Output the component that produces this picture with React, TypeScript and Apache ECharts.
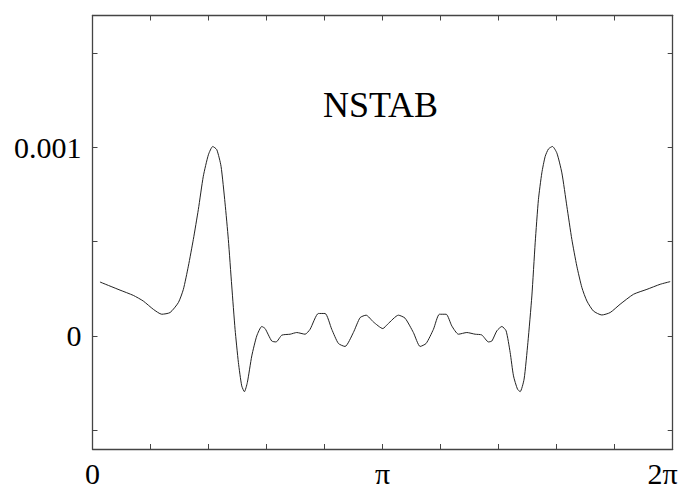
import React, { useEffect, useRef } from "react";
import * as echarts from "echarts";

const PI = Math.PI;

// x positions (radians) along the curve
const xValues: number[] = [
  0.081, 0.298, 0.442, 0.550, 0.659, 0.750, 0.840, 0.930, 0.984, 1.038,
  1.092, 1.146, 1.200, 1.255, 1.302, 1.346, 1.392, 1.435, 1.471, 1.508,
  1.544, 1.580, 1.616, 1.645, 1.677, 1.725, 1.779, 1.833, 1.869, 1.941,
  1.988, 2.050, 2.140, 2.212, 2.302, 2.356, 2.446, 2.519, 2.591, 2.663,
  2.735, 2.825, 2.898, 2.963, 3.042, 3.144, 3.196, 3.313, 3.385, 3.475,
  3.548, 3.613, 3.692, 3.757, 3.830, 3.891, 3.963, 4.054, 4.144, 4.216,
  4.288, 4.325, 4.379, 4.433, 4.479, 4.523, 4.559, 4.602, 4.631, 4.674,
  4.715, 4.758, 4.794, 4.829, 4.866, 4.902, 4.938, 4.981, 5.029, 5.083,
  5.137, 5.191, 5.245, 5.300, 5.354, 5.425, 5.516, 5.606, 5.714, 5.859,
  6.004, 6.148, 6.256,
];

// NSTAB values
const yValues: number[] = [
  0.000286, 0.000243, 0.000215, 0.000185, 0.000141, 0.000115, 0.000124, 0.000177, 0.000247, 0.000370,
  0.000512, 0.000670, 0.000847, 0.000961, 0.001005, 0.000988, 0.000900, 0.000706, 0.000512, 0.000265,
  0.000035, -0.000141, -0.000265, -0.000296, -0.000247, -0.000106, 0.000000, 0.000050, 0.000039, -0.000027,
  -0.000032, 0.000004, 0.000009, 0.000018, 0.000009, 0.000035, 0.000119, 0.000119, 0.000035, -0.000040,
  -0.000056, 0.000018, 0.000097, 0.000110, 0.000074, 0.000039, 0.000062, 0.000110, 0.000094, 0.000018,
  -0.000056, -0.000040, 0.000035, 0.000115, 0.000115, 0.000053, 0.000009, 0.000018, 0.000009, 0.000005,
  -0.000032, -0.000027, 0.000027, 0.000050, 0.000027, -0.000088, -0.000212, -0.000282, -0.000296, -0.000229,
  -0.000035, 0.000212, 0.000494, 0.000723, 0.000865, 0.000952, 0.000992, 0.001005, 0.000970, 0.000865,
  0.000688, 0.000512, 0.000370, 0.000256, 0.000185, 0.000132, 0.000111, 0.000124, 0.000168, 0.000221,
  0.000247, 0.000274, 0.000288,
];

const xTickValues: number[] = [0, 0.2, 0.4, 0.6, 0.8, 1, 1.2, 1.4, 1.6, 1.8, 2].map((k) => k * PI);
const xLabelValues: number[] = [0, PI, 2 * PI];
const xLabelTexts: string[] = ["0", "π", "2π"];
const yTickValues: number[] = [-0.0005, 0, 0.0005, 0.001, 0.0015];
const yLabelValues: number[] = [0, 0.001];
const yLabelTexts: string[] = ["0", "0.001"];

const FONT = '"Liberation Serif", "Times New Roman", serif';
const FRAME = { color: "#444", width: 1.3 };

export default function App() {
  const ref = useRef<HTMLDivElement>(null);
  useEffect(() => {
    if (!ref.current) return;
    const chart = echarts.init(ref.current, undefined, { renderer: "svg" });
    const data = xValues.map((x, i) => [x, yValues[i]]);
    const xLabelFmt = (v: number) => {
      const i = xLabelValues.findIndex((t) => Math.abs(t - v) < 1e-6);
      if (i < 0) return "";
      return i === 2 ? "{r|" + xLabelTexts[i] + "}" : xLabelTexts[i];
    };
    const yLabelFmt = (v: number) => {
      const i = yLabelValues.findIndex((t) => Math.abs(t - v) < 1e-9);
      return i < 0 ? "" : yLabelTexts[i];
    };
    const tick = { show: true, inside: true, length: 5, lineStyle: { color: "#444", width: 1 } };
    const line = { show: true, onZero: false, lineStyle: FRAME };
    chart.setOption({
      animation: false,
      backgroundColor: "#fff",
      grid: { left: 92.5, right: 13.3, top: 15.5, bottom: 43, containLabel: false },
      graphic: [
        {
          type: "text",
          x: 380.5,
          y: 105,
          style: {
            text: "NSTAB",
            font: "36px " + FONT,
            fill: "#000",
            align: "center",
            verticalAlign: "middle",
          },
        },
      ],
      xAxis: [
        {
          type: "value",
          min: 0,
          max: 2 * PI,
          position: "bottom",
          axisLine: line,
          axisTick: { ...tick, customValues: xTickValues },
          axisLabel: {
            show: true,
            customValues: xLabelValues,
            formatter: xLabelFmt,
            fontSize: 30,
            fontFamily: FONT,
            color: "#000",
            margin: 9,
            rich: { r: { fontSize: 30, fontFamily: FONT, color: "#000", padding: [0, 20, 0, 0] } },
          },
          splitLine: { show: false },
        },
        {
          type: "value",
          min: 0,
          max: 2 * PI,
          position: "top",
          axisLine: line,
          axisTick: { ...tick, customValues: xTickValues },
          axisLabel: { show: false },
          splitLine: { show: false },
        },
      ],
      yAxis: [
        {
          type: "value",
          min: -0.0006,
          max: 0.0017,
          position: "left",
          axisLine: line,
          axisTick: { ...tick, customValues: yTickValues },
          axisLabel: {
            show: true,
            customValues: yLabelValues,
            formatter: yLabelFmt,
            fontSize: 30,
            fontFamily: FONT,
            color: "#000",
            margin: 11,
          },
          splitLine: { show: false },
        },
        {
          type: "value",
          min: -0.0006,
          max: 0.0017,
          position: "right",
          axisLine: line,
          axisTick: { ...tick, customValues: yTickValues },
          axisLabel: { show: false },
          splitLine: { show: false },
        },
      ],
      series: [
        {
          type: "line",
          name: "NSTAB",
          xAxisIndex: 0,
          yAxisIndex: 0,
          data,
          showSymbol: false,
          smooth: 0.2,
          lineStyle: { color: "#222", width: 1 },
        },
      ],
    });
    return () => chart.dispose();
  }, []);
  return (
    <div
      ref={ref}
      style={{ position: "fixed", left: 0, top: 0, width: 686, height: 492, background: "#fff" }}
    />
  );
}
